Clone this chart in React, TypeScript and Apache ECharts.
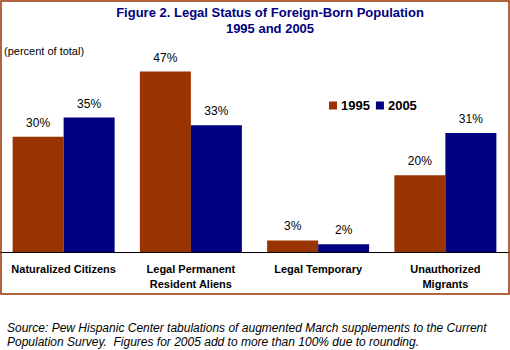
import React, { useEffect, useRef } from "react";
import * as echarts from "echarts";

const categories = ["Naturalized Citizens", "Legal Permanent\nResident Aliens", "Legal Temporary", "Unauthorized\nMigrants"];
const values1995 = [30, 47, 3, 20];
const values2005 = [35, 33, 2, 31];
const seriesNames = ["1995", "2005"];
const titleText = "Figure 2. Legal Status of Foreign-Born Population\n1995 and 2005";
const unitText = "(percent of total)";
const sourceText = "Source: Pew Hispanic Center tabulations of augmented March supplements to the Current\nPopulation Survey.  Figures for 2005 add to more than 100% due to rounding.";

const FONT = "'Liberation Sans', Arial, sans-serif";

export default function App() {
  const ref = useRef<HTMLDivElement>(null);
  useEffect(() => {
    if (!ref.current) return;
    const chart = echarts.init(ref.current, null, { renderer: "svg" });
    const label = {
      show: true,
      position: "top",
      distance: 8,
      formatter: "{c}%",
      color: "#000",
      fontSize: 12,
      fontFamily: FONT,
    };
    chart.setOption({
      animation: false,
      backgroundColor: "#fff",
      title: {
        text: titleText,
        left: 270,
        textAlign: "center",
        top: 4,
        padding: 0,
        textStyle: { color: "#000080", fontSize: 13, fontWeight: "bold", fontFamily: FONT, lineHeight: 16 },
      },
      legend: {
        left: 324,
        top: 94,
        itemWidth: 8,
        itemHeight: 8,
        itemGap: 6,
        icon: "rect",
        data: seriesNames,
        textStyle: { color: "#000", fontSize: 13, fontWeight: "bold", fontFamily: FONT, padding: [0, 0, 0, -1] },
      },
      grid: { left: 0, right: 1, top: 60, bottom: 98, containLabel: false },
      xAxis: {
        type: "category",
        data: categories,
        axisLine: { lineStyle: { color: "#000", width: 1 } },
        axisTick: { show: false },
        axisLabel: {
          interval: 0,
          margin: 9,
          color: "#000",
          fontSize: 11,
          fontWeight: "bold",
          fontFamily: FONT,
          lineHeight: 15,
        },
      },
      yAxis: { type: "value", min: 0, max: 50, show: false, splitLine: { show: false } },
      series: [
        {
          name: seriesNames[0],
          type: "bar",
          data: values1995,
          barWidth: 51,
          barGap: "0%",
          itemStyle: { color: "#993300" },
          label,
        },
        {
          name: seriesNames[1],
          type: "bar",
          data: values2005,
          barWidth: 51,
          barGap: "0%",
          itemStyle: { color: "#000080" },
          label,
        },
      ],
      graphic: [
        {
          type: "rect",
          shape: { x: 1, y: 1, width: 508, height: 293 },
          style: { fill: "none", stroke: "#993300", lineWidth: 1.5 },
          z: 100,
        },
        {
          type: "text",
          x: 4,
          y: 45,
          style: { text: unitText, fill: "#000", fontSize: 11, fontFamily: FONT },
        },
        {
          type: "text",
          x: 7,
          y: 321,
          style: { text: sourceText, fill: "#000", fontSize: 12, fontStyle: "italic", fontFamily: FONT, lineHeight: 14 },
        },
      ],
    });
    return () => chart.dispose();
  }, []);
  return <div ref={ref} style={{ position: "fixed", left: 0, top: 0, width: 510, height: 350 }} />;
}
